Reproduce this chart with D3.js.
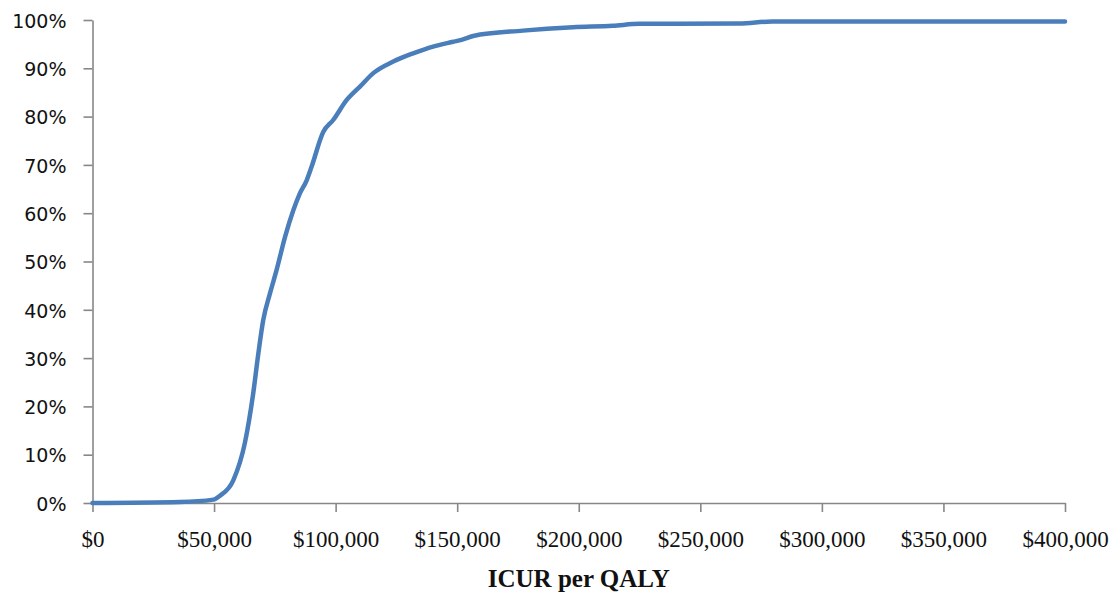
<!DOCTYPE html>
<html>
<head>
<meta charset="utf-8">
<script src="https://cdn.jsdelivr.net/npm/d3@7"></script>
<style>
    body { margin: 0; background: #fff; }
    .axis path, .axis line { stroke: #878787; stroke-width: 1.6; }
    .y-axis text { font-family: "DejaVu Sans", sans-serif; font-size: 19px; fill: #111; }
    .x-axis text { font-family: "Liberation Serif", serif; font-size: 23px; fill: #111; }
    .axis-label { font-family: "Liberation Serif", serif; font-size: 25px; font-weight: bold; fill: #111; }
</style>
</head>
<body>
<div id="chart"></div>
<script>
// ICUR per QALY (dollars) and cumulative probability (%)
const icur = [0, 36000, 49700, 52400, 57900, 62700, 66100, 68200, 70200,
    73000, 75700, 79200, 82600, 85300, 88100, 90100, 94900, 99000, 104500,
    110000, 115500, 123700, 131900, 140100, 148400, 151800, 156600, 177000, 197600,
    214000, 225000, 266000, 279700, 330000, 400000];
const prob = [0, 0.2, 0.7, 1.5, 4.7, 12.5, 22.7, 30.9, 37.8,
    43.4, 48.2, 55.1, 60.6, 64.1, 66.8, 69.6, 76.8, 79.3, 83.4,
    86.2, 89, 91.4, 93.1, 94.5, 95.5, 95.9, 96.7, 97.8, 98.5,
    98.8, 99.2, 99.3, 99.7, 99.7, 99.7];

const xTicks = [0, 50000, 100000, 150000, 200000, 250000, 300000, 350000, 400000];
const yTicks = [0, 10, 20, 30, 40, 50, 60, 70, 80, 90, 100];

const data = icur.map((v, i) => ({ x: v, y: prob[i] }));

const totalWidth = 1119, totalHeight = 594;
const margin = { top: 20, right: 54, bottom: 91, left: 92.5 };
const width = totalWidth - margin.left - margin.right;
const height = totalHeight - margin.top - margin.bottom;

const svg = d3.select("#chart")
    .append("svg")
    .attr("width", totalWidth)
    .attr("height", totalHeight)
    .append("g")
    .attr("transform", `translate(${margin.left},${margin.top})`);

// scales
const x = d3.scaleLinear().domain([0, 400000]).range([0, width]);
const y = d3.scaleLinear().domain([0, 100]).range([height, 0]);

// y axis
const yAxis = svg.append("g")
    .attr("class", "axis y-axis")
    .call(d3.axisLeft(y)
        .tickValues(yTicks)
        .tickSize(9)
        .tickSizeOuter(0)
        .tickPadding(17)
        .tickFormat(d => d + "%"));
yAxis.selectAll("text").attr("dy", "0.38em");

// x axis
const xAxis = svg.append("g")
    .attr("class", "axis x-axis")
    .attr("transform", `translate(0,${height})`)
    .call(d3.axisBottom(x)
        .tickValues(xTicks)
        .tickSize(9)
        .tickSizeOuter(0)
        .tickPadding(19)
        .tickFormat(d => "$" + d3.format(",")(d)));

// axis title
svg.append("text")
    .attr("class", "axis-label")
    .attr("x", width / 2)
    .attr("y", height + 84)
    .style("text-anchor", "middle")
    .text("ICUR per QALY");

// the curve
const line = d3.line()
    .x(d => x(d.x))
    .y(d => y(d.y))
    .curve(d3.curveMonotoneX);

svg.append("path")
    .datum(data)
    .attr("fill", "none")
    .attr("stroke", "#4A7EBB")
    .attr("stroke-width", 4.5)
    .attr("stroke-linejoin", "round")
    .attr("stroke-linecap", "round")
    .attr("d", line);
</script>
</body>
</html>
